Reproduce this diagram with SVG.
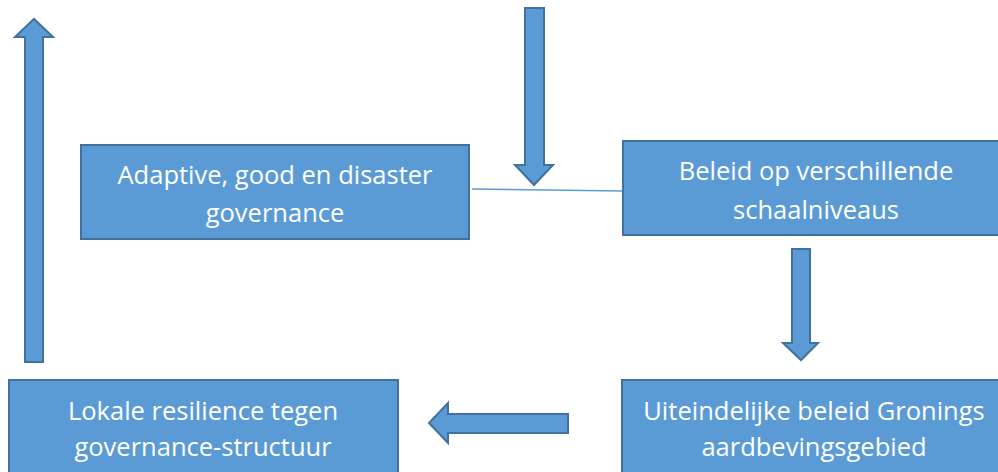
<svg xmlns="http://www.w3.org/2000/svg" width="998" height="472" viewBox="0 0 998 472">
<style>
.box{fill:#5b9bd5;stroke:#41719c;stroke-width:2}
.arr{fill:#5b9bd5;stroke:#41719c;stroke-width:2;stroke-linejoin:miter}
.t{fill:#ffffff;font-family:"Open Sans","Liberation Sans",sans-serif;font-size:25.5px;text-anchor:middle}
.ln{stroke:#5b9bd5;stroke-width:1.5;fill:none}
</style>
<rect width="998" height="472" fill="#ffffff"/>
<g id="connectors">
<line class="ln" x1="472" y1="189" x2="623" y2="191"/>
<path id="arrow-up" class="arr" d="M25,362 L25,37 L15,37 L34,19 L53,37 L43,37 L43,362 Z"/>
<path id="arrow-down-top" class="arr" d="M525,8 L544,8 L544,165 L553,165 L534,185 L515,165 L525,165 Z"/>
<path id="arrow-down-right" class="arr" d="M792,249 L810,249 L810,343 L818,343 L801,360 L783,343 L792,343 Z"/>
<path id="arrow-left" class="arr" d="M568,414 L568,433 L448,433 L448,443 L429,423 L448,403 L448,414 Z"/>
</g>
<g id="node-adaptive">
<rect class="box" x="81" y="145" width="388" height="94"/>
<text class="t" x="275" y="184">Adaptive, good en disaster</text>
<text class="t" x="275" y="222">governance</text>
</g>
<g id="node-beleid">
<rect class="box" x="623" y="141" width="386" height="94"/>
<text class="t" x="816" y="180">Beleid op verschillende</text>
<text class="t" x="816" y="219">schaalniveaus</text>
</g>
<g id="node-lokale">
<rect class="box" x="9" y="380" width="389" height="100"/>
<text class="t" x="203" y="420">Lokale resilience tegen</text>
<text class="t" x="203" y="456">governance-structuur</text>
</g>
<g id="node-uiteindelijke">
<rect class="box" x="622" y="380" width="386" height="100"/>
<text class="t" x="814" y="420">Uiteindelijke beleid Gronings</text>
<text class="t" x="814" y="456">aardbevingsgebied</text>
</g>
</svg>
